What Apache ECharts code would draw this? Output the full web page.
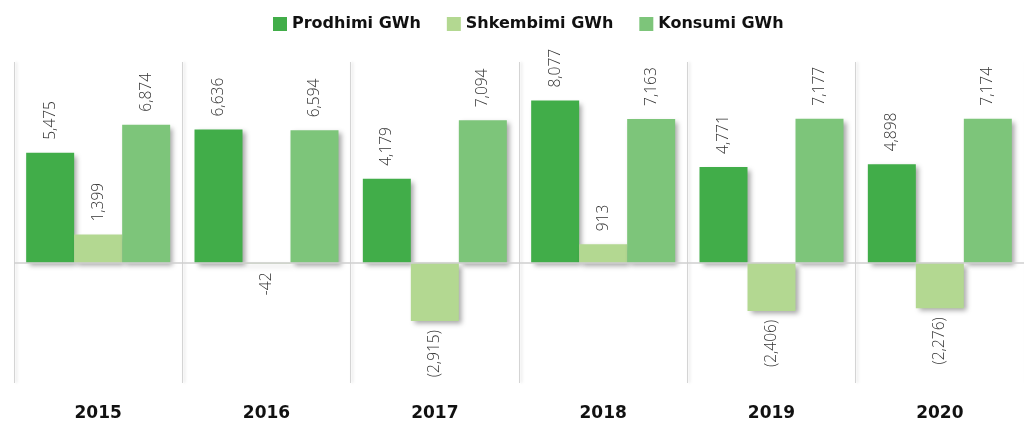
<!DOCTYPE html>
<html>
<head>
<meta charset="utf-8">
<script src="https://cdn.jsdelivr.net/npm/echarts@6/dist/echarts.min.js"></script>
<style>
html,body{margin:0;padding:0;background:#fff;}
#chart{width:1024px;height:423px;}
</style>
</head>
<body>
<div id="chart"></div>
<script>
const years = ['2015', '2016', '2017', '2018', '2019', '2020'];
const prodhimi = [5475, 6636, 4179, 8077, 4771, 4898];
const shkembimi = [1399, -42, -2915, 913, -2406, -2276];
const konsumi = [6874, 6594, 7094, 7163, 7177, 7174];
const seriesNames = ['Prodhimi GWh', 'Shkembimi GWh', 'Konsumi GWh'];
const colors = ['#41ad49', '#b3d891', '#7dc57a'];

function fmt(v) {
  const a = Math.abs(v).toString().replace(/\B(?=(\d{3})+(?!\d))/g, ',');
  if (v <= -1000) return '(' + a + ')';
  return (v < 0 ? '-' : '') + a;
}

const labelFont = {
  fontFamily: 'Open Sans', fontSize: 15.5, fontWeight: 300, color: '#333'
};

function makeData(arr) {
  return arr.map(v => ({
    value: v,
    label: v >= 0
      ? { position: 'top', rotate: 90, align: 'left', verticalAlign: 'middle', distance: 13 }
      : { position: 'bottom', rotate: 90, align: 'right', verticalAlign: 'middle', distance: 9 }
  }));
}

const barShadow = {
  shadowBlur: 5, shadowOffsetX: 3, shadowOffsetY: 3, shadowColor: 'rgba(0,0,0,0.35)'
};

const chart = echarts.init(document.getElementById('chart'));
const arrays = [prodhimi, shkembimi, konsumi];
chart.setOption({
  animation: false,
  legend: {
    top: 11,
    left: 268,
    itemWidth: 14,
    itemHeight: 14,
    itemGap: 26,
    icon: 'rect',
    textStyle: { fontFamily: 'DejaVu Sans', fontSize: 16, fontWeight: 'bold', color: '#111' },
    data: seriesNames
  },
  grid: { left: 14, width: 1014, top: 62, height: 321, containLabel: false },
  xAxis: {
    type: 'category',
    data: years,
    axisLine: { show: false, onZero: false },
    axisTick: { show: false },
    splitLine: {
      show: true, interval: 0,
      lineStyle: { color: '#d4d4d4', width: 1, shadowBlur: 3, shadowColor: 'rgba(0,0,0,0.15)', shadowOffsetX: 2 }
    },
    axisLabel: {
      margin: 22, interval: 0,
      fontFamily: 'DejaVu Sans', fontSize: 17, fontWeight: 'bold', color: '#111'
    }
  },
  yAxis: {
    type: 'value', min: -6000, max: 10000,
    show: false, splitLine: { show: false }
  },
  series: arrays.map((arr, i) => ({
    name: seriesNames[i],
    type: 'bar',
    barWidth: 48,
    barGap: '0%',
    itemStyle: Object.assign({ color: colors[i] }, barShadow),
    label: Object.assign({ show: true, formatter: p => fmt(p.value) }, labelFont),
    data: makeData(arr),
    markLine: i === 0 ? {
      silent: true, symbol: 'none',
      label: { show: false },
      lineStyle: { color: '#cfcfcf', type: 'solid', width: 1.5 },
      data: [{ yAxis: 0 }]
    } : undefined
  }))
});
</script>
</body>
</html>
